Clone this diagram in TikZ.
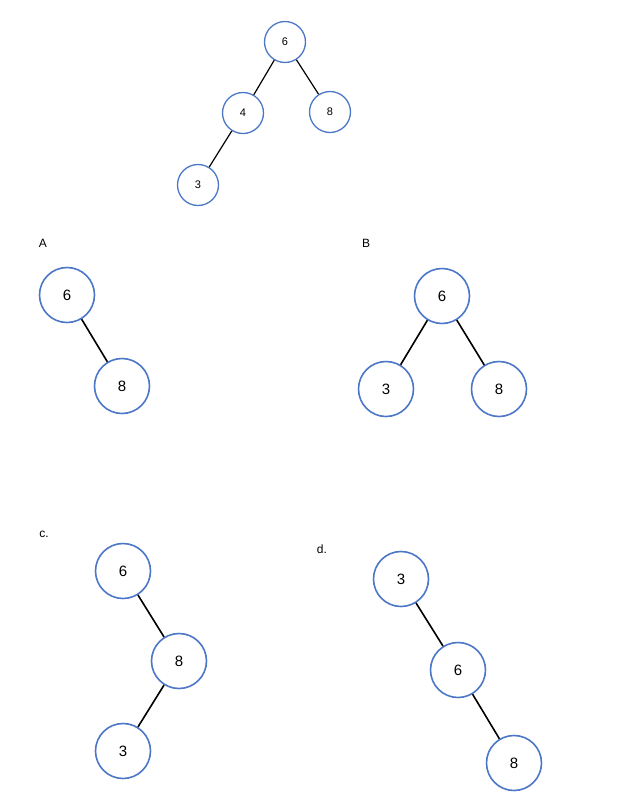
\documentclass[tikz,border=0pt]{standalone}
\usepackage{fontspec}
\setmainfont{Liberation Sans}
\usepackage{tikz}
\usepackage{xcolor}
\definecolor{nodeblue}{RGB}{76,118,198}

\begin{document}
\begin{tikzpicture}[x=1pt, y=-1pt,
            small/.style={circle, draw=nodeblue, line width=1.3pt, minimum size=41pt, inner sep=0pt, font=\fontsize{11}{12}\selectfont},
            big/.style={circle, draw=nodeblue, line width=1.6pt, minimum size=55pt, inner sep=0pt, font=\fontsize{15}{16}\selectfont},
            edge/.style={draw=black, line width=1.2pt},
            bigedge/.style={draw=black, line width=1.6pt},
            tag/.style={font=\fontsize{12}{13}\selectfont}
        ]
            \useasboundingbox (0,0) rectangle (625,801);

% Original tree
            \node[small] (t6) at (285,42) {6};
            \node[small] (t4) at (243,113) {4};
            \node[small] (t8) at (330,112) {8};
            \node[small] (t3) at (198,185) {3};
            \draw[edge] (t6) -- (t4);
            \draw[edge] (t6) -- (t8);
            \draw[edge] (t4) -- (t3);

% Option A
            \node[tag] (la) at (43,243) {A};
            \node[big] (a6) at (67,295) {6};
            \node[big] (a8) at (122,386) {8};
            \draw[bigedge] (a6) -- (a8);

% Option B
            \node[tag] (lb) at (366,243) {B};
            \node[big] (b6) at (442,296) {6};
            \node[big] (b3) at (386,389) {3};
            \node[big] (b8) at (499,389) {8};
            \draw[bigedge] (b6) -- (b3);
            \draw[bigedge] (b6) -- (b8);

% Option c
            \node[tag] (lc) at (44,534) {c.};
            \node[big] (c6) at (123,571) {6};
            \node[big] (c8) at (179,661) {8};
            \node[big] (c3) at (123,751) {3};
            \draw[bigedge] (c6) -- (c8);
            \draw[bigedge] (c8) -- (c3);

% Option d
            \node[tag] (ld) at (322,549) {d.};
            \node[big] (d3) at (401,579) {3};
            \node[big] (d6) at (458,670) {6};
            \node[big] (d8) at (514,763) {8};
            \draw[bigedge] (d3) -- (d6);
            \draw[bigedge] (d6) -- (d8);

        \end{tikzpicture}
\end{document}
